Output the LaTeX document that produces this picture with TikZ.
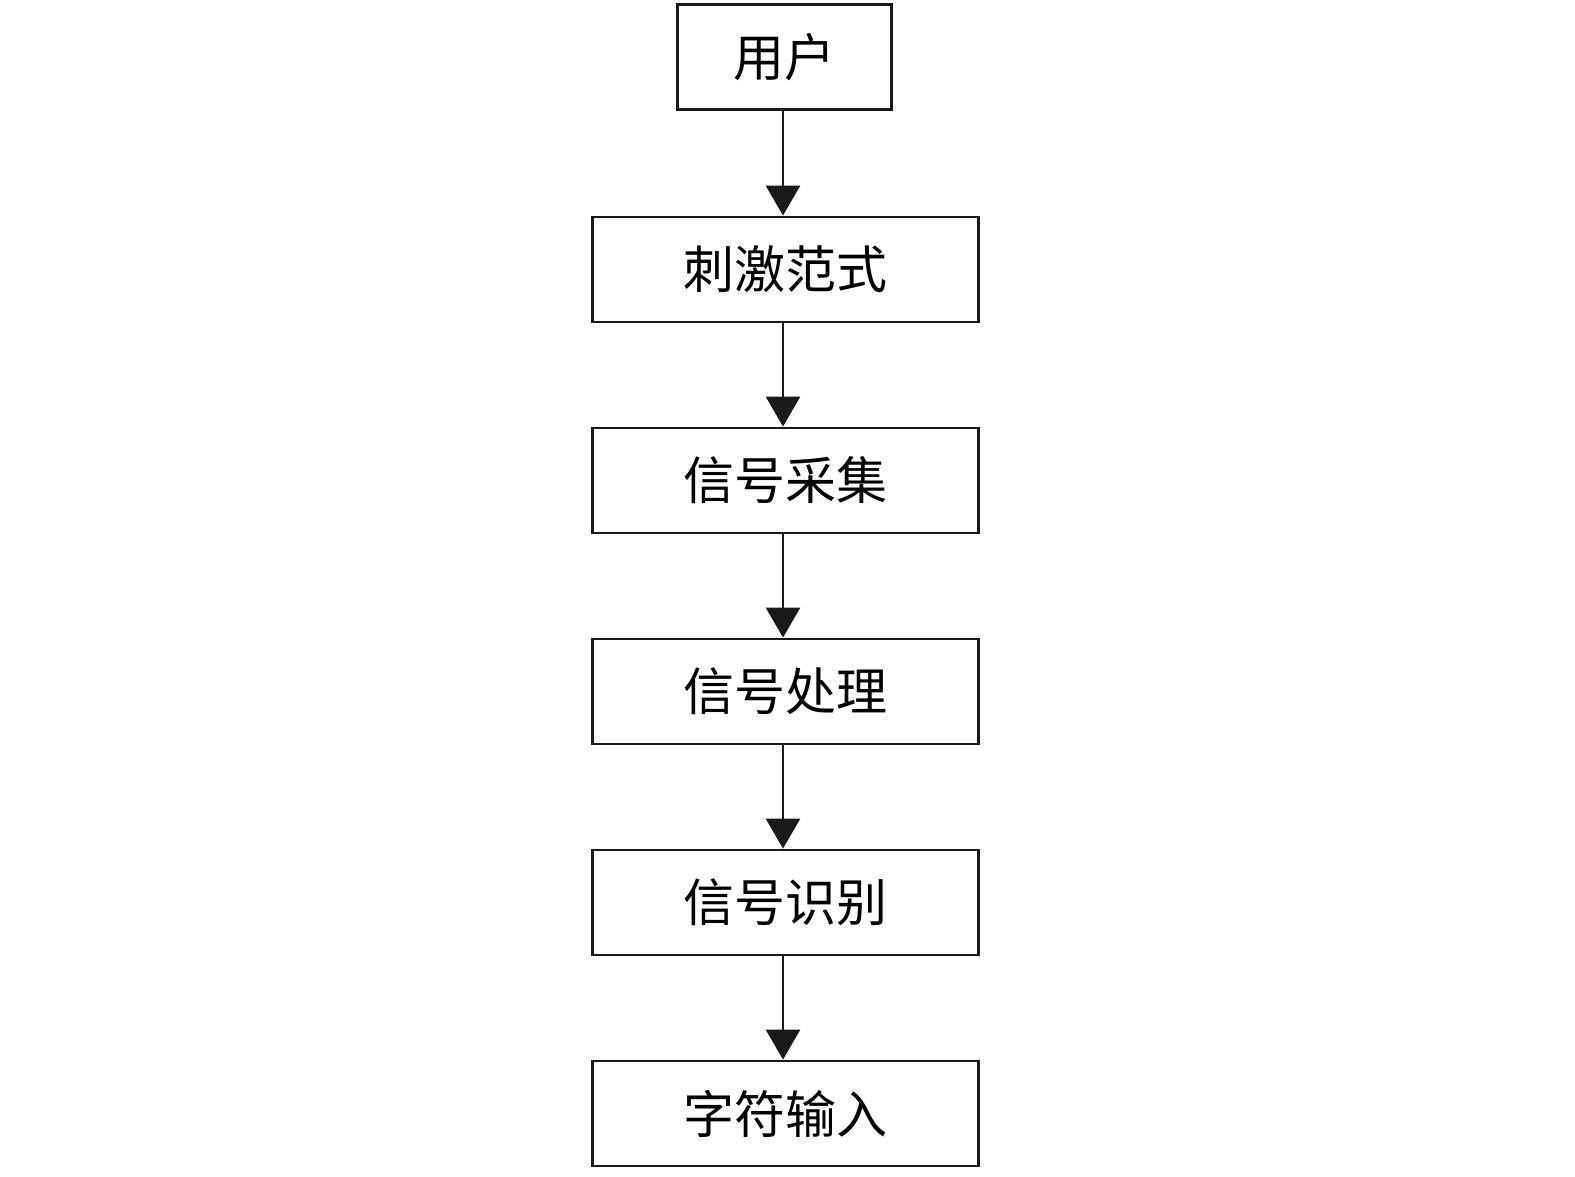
\documentclass[tikz,border=0pt]{standalone}
\usepackage{fontspec}
\newfontfamily\cjk{Noto Sans CJK SC}
\usetikzlibrary{arrows.meta}
\begin{document}
\begin{tikzpicture}[x=1pt,y=-1pt,
  box/.style={draw=black!90, line width=2.8pt, rectangle, inner sep=0pt, font=\cjk\fontsize{51}{60}\selectfont},
  arr/.style={draw=black!90, line width=2.8pt, -{Triangle[width=34pt,length=30pt]}}]
\useasboundingbox (0,0) rectangle (1575,1177);
\node[box, minimum width=214pt, minimum height=105pt] (user) at (784.5,57) {用户};
\node[box, minimum width=386pt, minimum height=105pt] (stim) at (785.5,269.5) {刺激范式};
\node[box, minimum width=386pt, minimum height=105pt] (acq) at (785.5,480.5) {信号采集};
\node[box, minimum width=386pt, minimum height=105pt] (proc) at (785.5,691.5) {信号处理};
\node[box, minimum width=386pt, minimum height=105pt] (rec) at (785.5,902.5) {信号识别};
\node[box, minimum width=386pt, minimum height=105pt] (inp) at (785.5,1113.5) {字符输入};
\draw[arr] (user.south -| 783,0) -- (stim.north -| 783,0);
\draw[arr] (stim.south -| 783,0) -- (acq.north -| 783,0);
\draw[arr] (acq.south -| 783,0) -- (proc.north -| 783,0);
\draw[arr] (proc.south -| 783,0) -- (rec.north -| 783,0);
\draw[arr] (rec.south -| 783,0) -- (inp.north -| 783,0);
\end{tikzpicture}
\end{document}
